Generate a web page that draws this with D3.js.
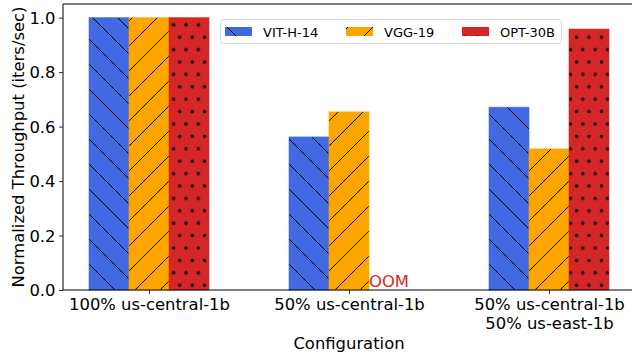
<!DOCTYPE html>
<html>
<head>
<meta charset="utf-8">
<script src="https://cdn.jsdelivr.net/npm/d3@7"></script>
<style>
  body { margin: 0; background: #fff; }
  svg { display: block; font-family: "DejaVu Sans", sans-serif; }
</style>
</head>
<body>
<div id="chart"></div>
<script>
// chart data
const categories = [["100% us-central-1b"], ["50% us-central-1b"], ["50% us-central-1b", "50% us-east-1b"]];
const seriesNames = ["VIT-H-14", "VGG-19", "OPT-30B"];
const vitValues = [1.0, 0.562, 0.671];
const vggValues = [1.0, 0.654, 0.518];
const optValues = [1.0, null, 0.958];
const yTicks = [0.0, 0.2, 0.4, 0.6, 0.8, 1.0];
const oomLabel = "OOM";

const seriesValues = [vitValues, vggValues, optValues];
const colors = ["#4169e1", "#ffa500", "#d62728"];
const hatches = ["back", "fwd", "dots"];

const width = 632, height = 356;
const margin = { left: 63, top: 4, bottom: 290 };
const barWidth = 0.2;

const svg = d3.select("#chart").append("svg")
  .attr("width", width)
  .attr("height", height);

// hatch patterns
const defs = svg.append("defs");
const p = 25;
hatches.forEach((h, i) => {
  const pat = defs.append("pattern")
    .attr("id", "hatch-" + h)
    .attr("patternUnits", "userSpaceOnUse");
  if (h === "dots") {
    pat.attr("width", 12.4).attr("height", 24.8);
    pat.append("rect").attr("width", 12.4).attr("height", 24.8).attr("fill", colors[i]);
    [[0, 0], [12.4, 0], [6.2, 12.4], [0, 24.8], [12.4, 24.8]].forEach(([cx, cy]) => {
      pat.append("circle").attr("cx", cx).attr("cy", cy).attr("r", 1.7).attr("fill", "#000");
    });
  } else {
    pat.attr("width", p).attr("height", p);
    pat.append("rect").attr("width", p).attr("height", p).attr("fill", colors[i]);
    const d = h === "fwd"
      ? `M0,${p} L${p},0 M-5,5 L5,-5 M${p - 5},${p + 5} L${p + 5},${p - 5}`
      : `M0,0 L${p},${p} M-5,${p - 5} L5,${p + 5} M${p - 5},-5 L${p + 5},5`;
    pat.append("path").attr("d", d).attr("stroke", "#000").attr("stroke-width", 1);
  }
});

const x = d3.scaleLinear().domain([-0.43, 2.43]).range([margin.left, 635]);
const y = d3.scaleLinear().domain([0, 1.05]).range([margin.bottom, margin.top]);

// bars
seriesValues.forEach((vals, s) => {
  svg.append("g").selectAll("rect")
    .data(vals.map((v, i) => ({ v, i })).filter(d => d.v !== null))
    .join("rect")
    .attr("x", d => x(d.i + (s - 1) * barWidth - barWidth / 2))
    .attr("width", x(barWidth) - x(0))
    .attr("y", d => y(d.v))
    .attr("height", d => y(0) - y(d.v))
    .attr("fill", `url(#hatch-${hatches[s]})`)
    .attr("stroke", colors[s])
    .attr("stroke-opacity", 0.6)
    .attr("stroke-width", 1);
});

// OOM marker
seriesValues[2].forEach((v, i) => {
  if (v === null) {
    svg.append("text")
      .attr("x", x(i + barWidth))
      .attr("y", y(0) - 3.5)
      .attr("text-anchor", "middle")
      .attr("font-size", "16.4px")
      .attr("fill", "#d62728")
      .text(oomLabel);
  }
});

// axes
const yAxis = svg.append("g")
  .attr("transform", `translate(${margin.left},0)`)
  .call(d3.axisLeft(y).tickValues(yTicks).tickFormat(d3.format(".1f")).tickSize(4).tickPadding(3.5));
yAxis.select(".domain").remove();
yAxis.selectAll("text").attr("font-size", "16.4px").attr("fill", "#000").attr("font-family", "DejaVu Sans").attr("dy", "0.35em");
yAxis.selectAll("line").attr("stroke", "#000").attr("stroke-width", 0.8);

const xAxis = svg.append("g")
  .attr("transform", `translate(0,${margin.bottom})`)
  .call(d3.axisBottom(x).tickValues([0, 1, 2]).tickFormat(() => "").tickSize(4));
xAxis.select(".domain").remove();
xAxis.selectAll("line").attr("stroke", "#000").attr("stroke-width", 0.8);
xAxis.selectAll(".tick").each(function (d) {
  const t = d3.select(this).append("text")
    .attr("fill", "#000")
    .attr("font-size", "16.4px")
    .attr("font-family", "DejaVu Sans")
    .attr("text-anchor", "middle");
  categories[d].forEach((line, k) => {
    t.append("tspan").attr("x", 0).attr("y", 20 + k * 18.5).text(line);
  });
});

// spines
svg.append("line").attr("x1", margin.left).attr("x2", margin.left).attr("y1", margin.top).attr("y2", margin.bottom)
  .attr("stroke", "#000").attr("stroke-width", 1);
svg.append("line").attr("x1", margin.left).attr("x2", width).attr("y1", margin.bottom).attr("y2", margin.bottom)
  .attr("stroke", "#000").attr("stroke-width", 1);
svg.append("line").attr("x1", margin.left).attr("x2", width).attr("y1", margin.top).attr("y2", margin.top)
  .attr("stroke", "#000").attr("stroke-width", 1);

// axis titles
svg.append("text")
  .attr("x", x(1))
  .attr("y", 349)
  .attr("text-anchor", "middle")
  .attr("font-size", "16.4px")
  .text("Configuration");
svg.append("text")
  .attr("transform", `translate(24,${(margin.top + margin.bottom) / 2}) rotate(-90)`)
  .attr("text-anchor", "middle")
  .attr("font-size", "16.4px")
  .text("Normalized Throughput (iters/sec)");

// legend
const legend = svg.append("g");
legend.append("rect")
  .attr("x", 220.5).attr("y", 19.5).attr("width", 341).attr("height", 24).attr("rx", 3)
  .attr("fill", "#fff").attr("fill-opacity", 0.8)
  .attr("stroke", "#d6d6d6").attr("stroke-width", 1);
const legendX = [225, 346, 462];
seriesNames.forEach((name, s) => {
  legend.append("rect")
    .attr("x", legendX[s]).attr("y", 27).attr("width", 27).attr("height", 9)
    .attr("fill", `url(#hatch-${hatches[s]})`);
  legend.append("text")
    .attr("x", legendX[s] + 38).attr("y", 36.5)
    .attr("font-size", "13px")
    .text(name);
});
</script>
</body>
</html>
